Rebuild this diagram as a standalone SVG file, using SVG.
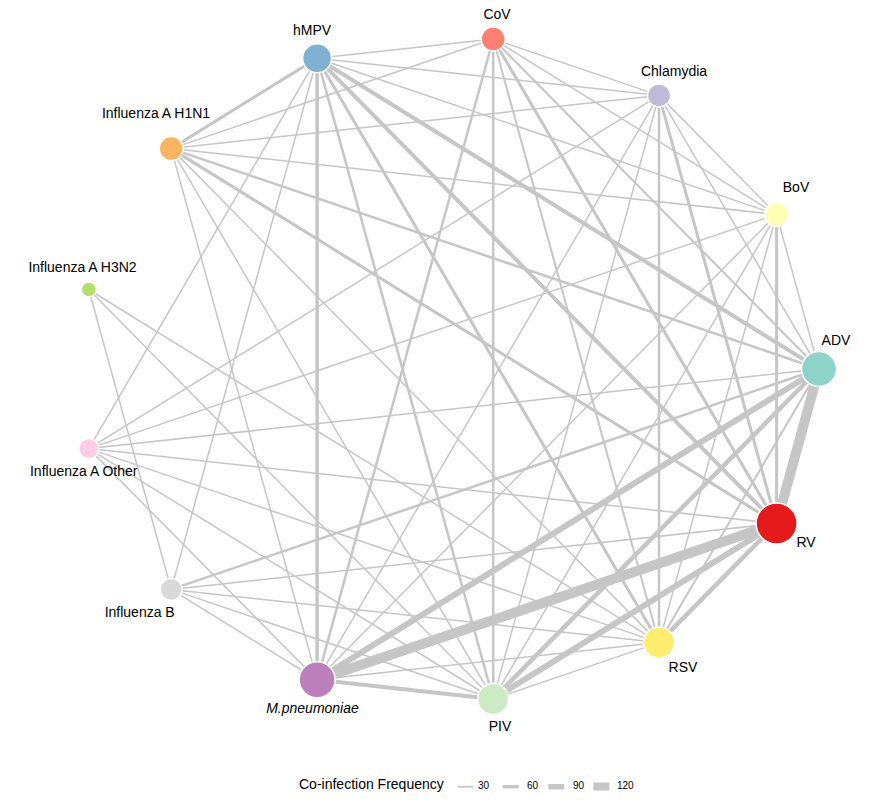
<svg xmlns="http://www.w3.org/2000/svg" width="876" height="802" viewBox="0 0 876 802">
<style>
text{font-family:"Liberation Sans",Arial,sans-serif;font-size:14px;fill:#000}
.lg{font-size:10px}
#edges line{stroke:#c6c6c6;stroke-linecap:butt}
.node circle{stroke:#fff;stroke-width:1.5}
</style>
<rect width="876" height="802" fill="#fff"/>
<g id="edges">
<!-- ADV -->
<line x1="819" y1="369" x2="776.6" y2="214.5" stroke-width="1.5"/>
<line x1="819" y1="369" x2="659" y2="95.4" stroke-width="1.5"/>
<line x1="819" y1="369" x2="493.2" y2="39" stroke-width="2"/>
<line x1="819" y1="369" x2="317.1" y2="58.2" stroke-width="4"/>
<line x1="819" y1="369" x2="171.2" y2="148.6" stroke-width="2.5"/>
<line x1="819" y1="369" x2="88.8" y2="448.6" stroke-width="1.5"/>
<line x1="819" y1="369" x2="171.2" y2="589.4" stroke-width="2.5"/>
<line x1="819" y1="369" x2="317.1" y2="679.8" stroke-width="6"/>
<line x1="819" y1="369" x2="493.2" y2="699" stroke-width="4.5"/>
<line x1="819" y1="369" x2="659" y2="642.6" stroke-width="2"/>
<line x1="819" y1="369" x2="776.6" y2="523.5" stroke-width="10"/>
<!-- BoV -->
<line x1="776.6" y1="214.5" x2="659" y2="95.4" stroke-width="1.5"/>
<line x1="776.6" y1="214.5" x2="493.2" y2="39" stroke-width="1.5"/>
<line x1="776.6" y1="214.5" x2="317.1" y2="58.2" stroke-width="1.5"/>
<line x1="776.6" y1="214.5" x2="171.2" y2="148.6" stroke-width="1.5"/>
<line x1="776.6" y1="214.5" x2="88.8" y2="448.6" stroke-width="1.5"/>
<line x1="776.6" y1="214.5" x2="317.1" y2="679.8" stroke-width="1.5"/>
<line x1="776.6" y1="214.5" x2="493.2" y2="699" stroke-width="1.5"/>
<line x1="776.6" y1="214.5" x2="659" y2="642.6" stroke-width="1.5"/>
<line x1="776.6" y1="214.5" x2="776.6" y2="523.5" stroke-width="3"/>
<!-- Chlamydia -->
<line x1="659" y1="95.4" x2="493.2" y2="39" stroke-width="1.5"/>
<line x1="659" y1="95.4" x2="317.1" y2="58.2" stroke-width="1.5"/>
<line x1="659" y1="95.4" x2="171.2" y2="148.6" stroke-width="1.5"/>
<line x1="659" y1="95.4" x2="88.8" y2="448.6" stroke-width="1.5"/>
<line x1="659" y1="95.4" x2="776.6" y2="523.5" stroke-width="3"/>
<line x1="659" y1="95.4" x2="659" y2="642.6" stroke-width="2.5"/>
<line x1="659" y1="95.4" x2="493.2" y2="699" stroke-width="1.5"/>
<line x1="659" y1="95.4" x2="317.1" y2="679.8" stroke-width="1.5"/>
<!-- CoV -->
<line x1="493.2" y1="39" x2="317.1" y2="58.2" stroke-width="1.5"/>
<line x1="493.2" y1="39" x2="171.2" y2="148.6" stroke-width="1.5"/>
<line x1="493.2" y1="39" x2="776.6" y2="523.5" stroke-width="3"/>
<line x1="493.2" y1="39" x2="659" y2="642.6" stroke-width="2"/>
<line x1="493.2" y1="39" x2="493.2" y2="699" stroke-width="2.5"/>
<line x1="493.2" y1="39" x2="317.1" y2="679.8" stroke-width="2.5"/>
<!-- hMPV -->
<line x1="317.1" y1="58.2" x2="776.6" y2="523.5" stroke-width="4"/>
<line x1="317.1" y1="58.2" x2="659" y2="642.6" stroke-width="3"/>
<line x1="317.1" y1="58.2" x2="493.2" y2="699" stroke-width="2.5"/>
<line x1="317.1" y1="58.2" x2="317.1" y2="679.8" stroke-width="3.5"/>
<line x1="317.1" y1="58.2" x2="171.2" y2="589.4" stroke-width="1.5"/>
<line x1="317.1" y1="58.2" x2="88.8" y2="448.6" stroke-width="1.5"/>
<line x1="317.1" y1="58.2" x2="171.2" y2="148.6" stroke-width="3"/>
<!-- H1N1 -->
<line x1="171.2" y1="148.6" x2="776.6" y2="523.5" stroke-width="3"/>
<line x1="171.2" y1="148.6" x2="659" y2="642.6" stroke-width="1.5"/>
<line x1="171.2" y1="148.6" x2="493.2" y2="699" stroke-width="1.5"/>
<line x1="171.2" y1="148.6" x2="317.1" y2="679.8" stroke-width="1.5"/>
<!-- H3N2 -->
<line x1="88.8" y1="289.5" x2="659" y2="642.6" stroke-width="1.5"/>
<line x1="88.8" y1="289.5" x2="493.2" y2="699" stroke-width="1.5"/>
<line x1="88.8" y1="289.5" x2="171.2" y2="589.4" stroke-width="1.5"/>
<!-- Other -->
<line x1="88.8" y1="448.6" x2="776.6" y2="523.5" stroke-width="1.5"/>
<line x1="88.8" y1="448.6" x2="659" y2="642.6" stroke-width="1.5"/>
<line x1="88.8" y1="448.6" x2="317.1" y2="679.8" stroke-width="1.5"/>
<line x1="88.8" y1="448.6" x2="493.2" y2="699" stroke-width="1.5"/>
<!-- Influenza B -->
<line x1="171.2" y1="589.4" x2="776.6" y2="523.5" stroke-width="1.5"/>
<line x1="171.2" y1="589.4" x2="659" y2="642.6" stroke-width="1.5"/>
<line x1="171.2" y1="589.4" x2="493.2" y2="699" stroke-width="1.5"/>
<line x1="171.2" y1="589.4" x2="317.1" y2="679.8" stroke-width="1.5"/>
<!-- M.pneumoniae -->
<line x1="317.1" y1="679.8" x2="776.6" y2="523.5" stroke-width="10"/>
<line x1="317.1" y1="679.8" x2="659" y2="642.6" stroke-width="1.5"/>
<line x1="317.1" y1="679.8" x2="493.2" y2="699" stroke-width="4"/>
<!-- PIV -->
<line x1="493.2" y1="699" x2="659" y2="642.6" stroke-width="1.5"/>
<line x1="493.2" y1="699" x2="776.6" y2="523.5" stroke-width="6"/>
<!-- RSV -->
<line x1="659" y1="642.6" x2="776.6" y2="523.5" stroke-width="4.5"/>
</g>
<g id="node-ADV" class="node"><circle cx="819" cy="369" r="17.5" fill="#8DD3C7"/><text x="836" y="345" text-anchor="middle">ADV</text></g>
<g id="node-BoV" class="node"><circle cx="776.6" cy="214.5" r="12" fill="#FFFFB3"/><text x="796" y="192" text-anchor="middle">BoV</text></g>
<g id="node-Chlamydia" class="node"><circle cx="659" cy="95.4" r="11.5" fill="#BEBADA"/><text x="674" y="76" text-anchor="middle">Chlamydia</text></g>
<g id="node-CoV" class="node"><circle cx="493.2" cy="39" r="12" fill="#FB8072"/><text x="497" y="19" text-anchor="middle">CoV</text></g>
<g id="node-hMPV" class="node"><circle cx="317.1" cy="58.2" r="14.5" fill="#80B1D3"/><text x="312" y="35" text-anchor="middle">hMPV</text></g>
<g id="node-H1N1" class="node"><circle cx="171.2" cy="148.6" r="12" fill="#FDB462"/><text x="156" y="118" text-anchor="middle">Influenza A H1N1</text></g>
<g id="node-H3N2" class="node"><circle cx="88.8" cy="289.5" r="7.5" fill="#B3DE69"/><text x="82.5" y="272" text-anchor="middle">Influenza A H3N2</text></g>
<g id="node-Other" class="node"><circle cx="88.8" cy="448.6" r="10" fill="#FCCDE5"/><text x="83.7" y="476" text-anchor="middle">Influenza A Other</text></g>
<g id="node-InfluenzaB" class="node"><circle cx="171.2" cy="589.4" r="11" fill="#D9D9D9"/><text x="139.7" y="617" text-anchor="middle">Influenza B</text></g>
<g id="node-Mpneumoniae" class="node"><circle cx="317.1" cy="679.8" r="18" fill="#BC80BD"/><text x="312.5" y="713" text-anchor="middle" font-style="italic">M.pneumoniae</text></g>
<g id="node-PIV" class="node"><circle cx="493.2" cy="699" r="15.5" fill="#CCEBC5"/><text x="500" y="731" text-anchor="middle">PIV</text></g>
<g id="node-RSV" class="node"><circle cx="659" cy="642.6" r="15.5" fill="#FFED6F"/><text x="683" y="672" text-anchor="middle">RSV</text></g>
<g id="node-RV" class="node"><circle cx="776.6" cy="523.5" r="20.5" fill="#E41A1C"/><text x="806" y="547" text-anchor="middle">RV</text></g>
<g id="legend">
<text x="299" y="789">Co-infection Frequency</text>
<rect x="457.7" y="785.8" width="15.6" height="1.8" fill="#c6c6c6"/>
<text class="lg" x="478" y="789">30</text>
<rect x="502.7" y="785" width="16" height="3.4" fill="#c6c6c6"/>
<text class="lg" x="527" y="789">60</text>
<rect x="548.3" y="784" width="16" height="5.4" fill="#c6c6c6"/>
<text class="lg" x="573" y="789">90</text>
<rect x="593.3" y="782.5" width="16" height="8" fill="#c6c6c6"/>
<text class="lg" x="617" y="789">120</text>
</g>
</svg>
